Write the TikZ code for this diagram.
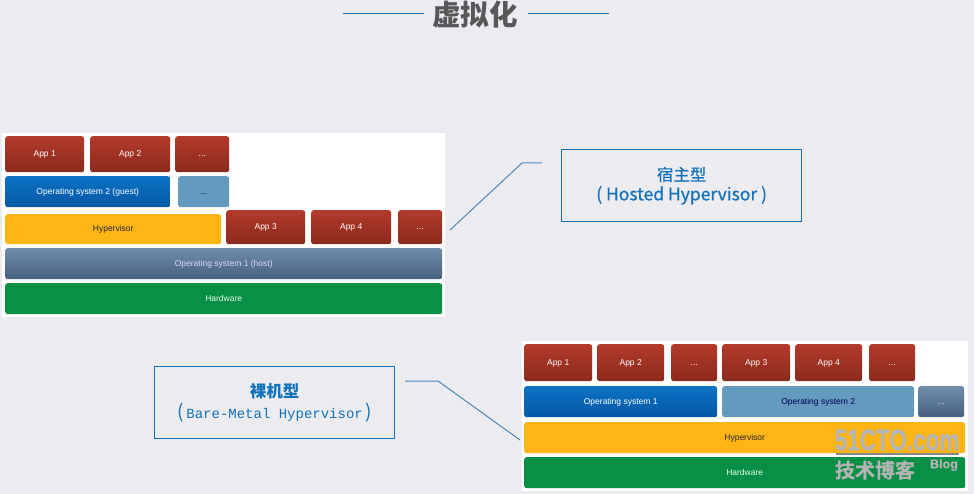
\documentclass[tikz,border=0pt]{standalone}
\usepackage{fontspec}
\setmainfont{Liberation Sans}
\newfontfamily\cjk{Noto Sans CJK SC}
\newfontfamily\cjkmed[FakeBold=0.5]{Noto Sans CJK SC}
\newfontfamily\monofont{Liberation Mono}
\newfontfamily\markfont[FakeBold=0.7]{Liberation Sans Bold}
\newfontfamily\markcjk[FakeBold=0.6]{Noto Sans CJK SC Bold}
\definecolor{pagegray}{HTML}{ECECF0}
\definecolor{linkblue}{HTML}{4A88BC}
\definecolor{boxblue}{HTML}{1272BC}
\definecolor{titlegray}{HTML}{58585A}
\definecolor{markgray}{HTML}{B4B4B4}
\definecolor{lightblue}{HTML}{659AC0}
\definecolor{slatetop}{HTML}{6F8DAC}
\definecolor{slatebottom}{HTML}{47617F}
\definecolor{hyperyellow}{HTML}{FDB515}
\definecolor{hardgreen}{HTML}{068F45}
\definecolor{appred}{HTML}{B33A2A}
\definecolor{appreddark}{HTML}{8A2A1E}
\definecolor{ostop}{HTML}{0B72C2}
\definecolor{osbottom}{HTML}{0558A6}
\tikzset{
    block/.style={anchor=north west, inner sep=0pt, rounded corners=2.5pt, font=\fontsize{8.5}{10}\selectfont, text height=6.5pt, text depth=1.5pt, text=white},
    appbox/.style={block, top color=appred, bottom color=appreddark},
    osbox/.style={block, top color=ostop, bottom color=osbottom},
    lightbox/.style={block, fill=lightblue, text=black!70!blue},
    hostbox/.style={block, top color=slatetop, bottom color=slatebottom, text=white!85!blue},
    hyperbox/.style={block, fill=hyperyellow, text=black!85},
    hardbox/.style={block, fill=hardgreen, text=white!90!green},
    panel/.style={fill=white, draw=none},
    link/.style={draw=linkblue, line width=1pt},
    labelbox/.style={draw=boxblue, line width=1.3pt, anchor=north west, minimum width=240pt, minimum height=72pt, align=center, text=boxblue},
}
\begin{document}
\begin{tikzpicture}[x=1pt, y=-1pt]
    \useasboundingbox (0,0) rectangle (974,494);
    \fill[pagegray] (0,0) rectangle (974,494);

    % 標題
    \node[font=\cjk\bfseries\fontsize{28.5}{30}\selectfont, text=titlegray, inner sep=0pt] (title) at (475,15) {虚拟化};
    \coordinate (titleLA) at (343,13);
    \coordinate (titleLB) at (424,13);
    \coordinate (titleRA) at (528,13);
    \coordinate (titleRB) at (609,13);
    \draw[draw=boxblue, line width=0.7pt] (titleLA) -- (titleLB);
    \draw[draw=boxblue, line width=0.7pt] (titleRA) -- (titleRB);

    % 左邊的堆疊
    \fill[panel] (2,133) rectangle (445,317);
    \node[appbox, minimum width=79pt, minimum height=36pt] (appA) at (5,136) {App 1};
    \node[appbox, minimum width=80pt, minimum height=36pt] (appB) at (90,136) {App 2};
    \node[appbox, minimum width=54pt, minimum height=36pt] (appC) at (175,136) {...};
    \node[osbox, minimum width=165pt, minimum height=31pt] (guestOS) at (5,176) {Operating system 2 (guest)};
    \node[lightbox, minimum width=51pt, minimum height=31pt] (guestMore) at (178,176) {...};
    \node[hyperbox, minimum width=216pt, minimum height=30pt] (hyperL) at (5,214) {Hypervisor};
    \node[appbox, minimum width=79pt, minimum height=34pt] (appD) at (226,210) {App 3};
    \node[appbox, minimum width=80pt, minimum height=34pt] (appE) at (311,210) {App 4};
    \node[appbox, minimum width=44pt, minimum height=34pt] (appF) at (398,210) {...};
    \node[hostbox, minimum width=437pt, minimum height=31pt] (hostOS) at (5,248) {Operating system 1 (host)};
    \node[hardbox, minimum width=437pt, minimum height=31pt] (hardL) at (5,283) {Hardware};

    % 右邊的堆疊
    \fill[panel] (522,341) rectangle (968,491);
    \node[appbox, minimum width=68pt, minimum height=37pt] (appG) at (524,344) {App 1};
    \node[appbox, minimum width=67pt, minimum height=37pt] (appH) at (597,344) {App 2};
    \node[appbox, minimum width=46pt, minimum height=37pt] (appI) at (671,344) {...};
    \node[appbox, minimum width=68pt, minimum height=37pt] (appJ) at (722,344) {App 3};
    \node[appbox, minimum width=67pt, minimum height=37pt] (appK) at (795,344) {App 4};
    \node[appbox, minimum width=46pt, minimum height=37pt] (appL) at (869,344) {...};
    \node[osbox, minimum width=193pt, minimum height=31pt] (osA) at (524,386) {Operating system 1};
    \node[lightbox, minimum width=192pt, minimum height=31pt] (osB) at (722,386) {Operating system 2};
    \node[hostbox, minimum width=46pt, minimum height=31pt] (osMore) at (918,386) {...};
    \node[hyperbox, minimum width=441pt, minimum height=31pt] (hyperR) at (524,422) {Hypervisor};
    \node[hardbox, minimum width=441pt, minimum height=31pt] (hardR) at (524,457) {Hardware};

    % 說明框
    \node[labelbox] (hosted) at (561,149) {{\cjkmed\fontsize{16.5}{21}\selectfont 宿主型}\\[3pt]{\cjkmed\fontsize{17.5}{21}\selectfont ( Hosted Hypervisor )}};
    \node[labelbox] (bare) at (154,366) {{\cjk\bfseries\fontsize{16.5}{21}\selectfont 裸机型}\\[3pt]{\cjk\fontsize{19}{21}\selectfont (}{\monofont\fontsize{14}{21}\selectfont\,Bare-Metal Hypervisor\,}{\cjk\fontsize{19}{21}\selectfont )}};

    % 連接線
    \coordinate (hostedA) at (450,230);
    \coordinate (hostedB) at (522,163);
    \coordinate (hostedC) at (542,163);
    \coordinate (bareA) at (405,381);
    \coordinate (bareB) at (438,381);
    \coordinate (bareC) at (520,440);
    \draw[link] (hostedA) -- (hostedB) -- (hostedC);
    \draw[link] (bareA) -- (bareB) -- (bareC);

    % 水印
    \node[font=\markfont\fontsize{30}{30}\selectfont, text=markgray, inner sep=0pt, xscale=0.75] (markA) at (897,440) {51CTO.com};
    \coordinate (markLA) at (836,454);
    \coordinate (markLB) at (959,454);
    \draw[draw=markgray!75!black, line width=1.5pt] (markLA) -- (markLB);
    \node[font=\markcjk\fontsize{20}{20}\selectfont, text=markgray, inner sep=0pt] (markB) at (875,470) {技术博客};
    \node[font=\markfont\fontsize{12.5}{12}\selectfont, text=markgray, inner sep=0pt] (markC) at (944,465) {Blog};
\end{tikzpicture}
\end{document}
